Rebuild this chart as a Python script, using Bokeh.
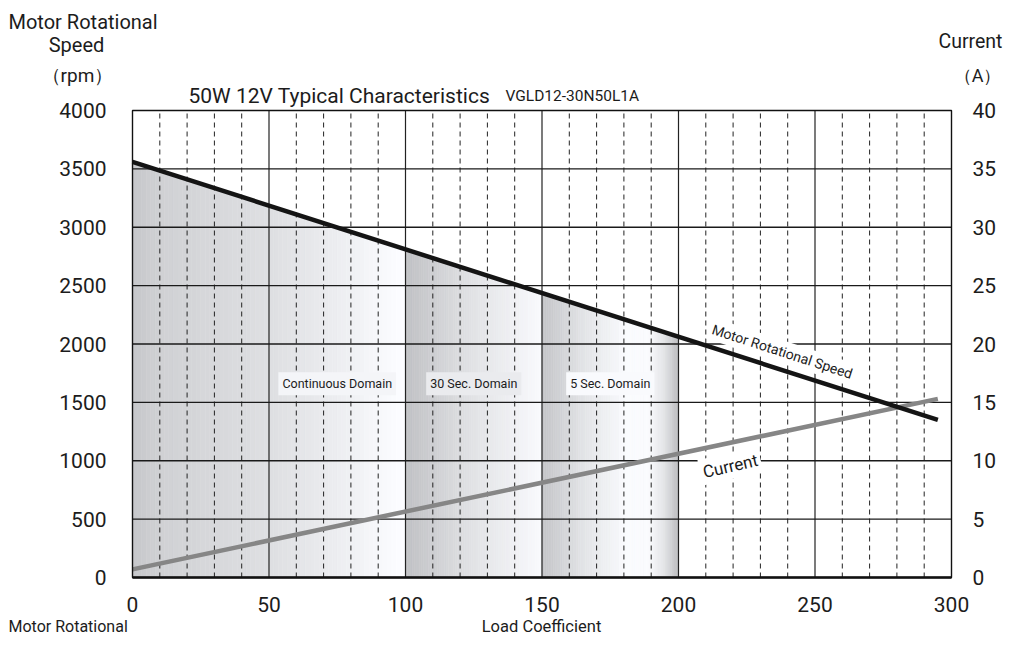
import numpy as np
from bokeh.plotting import figure
from bokeh.models import Range1d, LinearAxis, FixedTicker, Label
from bokeh.embed import file_html
from bokeh.resources import INLINE

# ---------------- data ----------------
load = [0, 295]
speed_rpm = [3560, 1350]
current_a = [0.7, 15.3]

x_ticks = [0, 50, 100, 150, 200, 250, 300]
x_minor = [10, 20, 30, 40, 60, 70, 80, 90, 110, 120, 130, 140, 160, 170, 180, 190,
           210, 220, 230, 240, 260, 270, 280, 290]
speed_ticks = [0, 500, 1000, 1500, 2000, 2500, 3000, 3500, 4000]
current_ticks = [0, 5, 10, 15, 20, 25, 30, 35, 40]

domain_names = ["Continuous Domain", "30 Sec. Domain", "5 Sec. Domain"]
domain_start = [0, 100, 150]
domain_end = [100, 150, 200]
domain_label_x = [75, 125, 175]
domain_label_y = [1660, 1660, 1660]

title_main = "50W 12V Typical Characteristics"
title_model = "VGLD12-30N50L1A"
x_title = "Load Coefficient"
left_header = ["Motor Rotational", "Speed", "（rpm）"]
right_header = ["Current", "（A）"]
speed_name = "Motor Rotational Speed"
current_name = "Current"
speed_name_pos = (238, 1935)
current_name_pos = (219, 955)

# ---------------- style / layout ----------------
FONT = "Roboto"
TXT = "#1c1c1c"
W, H = 1005, 637
PX_L, PX_R, PX_T, PX_B = 132, 951, 110, 577      # plot box on the canvas (pixels)
X0, X1 = x_ticks[0], x_ticks[-1]
Y0, Y1 = speed_ticks[0], speed_ticks[-1]
C0, C1 = current_ticks[0], current_ticks[-1]
sx = (PX_R - PX_L) / (X1 - X0)
sy = (PX_B - PX_T) / (Y1 - Y0)
x_lo, x_hi = X0 - PX_L / sx, X1 + (W - PX_R) / sx
y_lo, y_hi = Y0 - (H - PX_B) / sy, Y1 + PX_T / sy
cf = (C1 - C0) / (Y1 - Y0)


def cx2d(px):
    return X0 + (px - PX_L) / sx


def cy2d(py):
    return Y0 + (PX_B - py) / sy


grad_stops = [
    [(0.0, 198), (0.1, 208), (0.5, 222), (0.75, 236), (0.95, 250), (1.0, 252)],
    [(0.0, 192), (0.5, 226), (1.0, 249)],
    [(0.0, 196), (0.3, 226), (0.62, 250), (0.78, 250), (0.9, 226), (1.0, 188)],
]


def gray(g):
    g = int(round(g))
    return "#%02x%02x%02x" % (g, min(g + 1, 255), min(g + 4, 255))


p = figure(width=W, height=H, output_backend="svg", toolbar_location=None,
           x_range=Range1d(x_lo, x_hi), y_range=Range1d(y_lo, y_hi),
           min_border=0)
p.extra_y_ranges = {"cur": Range1d(C0 + (y_lo - Y0) * cf, C0 + (y_hi - Y0) * cf)}
p.outline_line_color = None
p.background_fill_color = "white"
p.border_fill_color = "white"
p.xgrid.visible = False
p.ygrid.visible = False

# ---- shaded operating domains (under the speed curve) ----
xs, ys, cols = [], [], []
n = 60
for s, e, stops in zip(domain_start, domain_end, grad_stops):
    edges = np.linspace(s, e, n + 1)
    fr = [a for a, _ in stops]
    gv = [b for _, b in stops]
    for a, b in zip(edges[:-1], edges[1:]):
        mid = ((a + b) / 2 - s) / (e - s)
        c = gray(np.interp(mid, fr, gv))
        ta, tb = np.interp([a, b], load, speed_rpm)
        xs.append([a, b, b, a])
        ys.append([Y0, Y0, tb, ta])
        cols.append(c)
p.patches(xs, ys, fill_color=cols, line_color=cols, line_width=0.6)

# ---- grid lines ----
p.segment(x0=x_minor, y0=[Y0] * len(x_minor), x1=x_minor, y1=[Y1] * len(x_minor),
          line_color="#222222", line_width=1, line_dash="5 4")
xmaj = [t for t in x_ticks if X0 < t < X1]
p.segment(x0=xmaj, y0=[Y0] * len(xmaj), x1=xmaj, y1=[Y1] * len(xmaj),
          line_color="#222222", line_width=1.2)
ymaj = [t for t in speed_ticks if Y0 < t < Y1]
p.segment(x0=[X0] * len(ymaj), y0=ymaj, x1=[X1] * len(ymaj), y1=ymaj,
          line_color="#1a1a1a", line_width=1.3)

# ---- curves ----
p.line(load, current_a, y_range_name="cur", line_color="#868686", line_width=4.5)
p.line(load, speed_rpm, line_color="#141414", line_width=4.5)

# ---- plot box ----
p.quad(left=[X0], right=[X1], bottom=[Y0], top=[Y1], fill_color=None,
       line_color="#111111", line_width=1.4)

# ---- axes (fixed at the plot box edges) ----
for ax in [p.xaxis[0], p.yaxis[0]]:
    ax.major_tick_line_color = None
    ax.minor_tick_line_color = None
    ax.major_label_text_font = FONT
    ax.major_label_text_font_size = "21px"
    ax.major_label_text_color = TXT

p.xaxis.ticker = FixedTicker(ticks=x_ticks)
p.xaxis.fixed_location = Y0
p.xaxis.bounds = (X0, X1)
p.xaxis.axis_line_color = "#111111"
p.xaxis.axis_line_width = 2.4
p.xaxis.major_label_standoff = 13

p.yaxis.ticker = FixedTicker(ticks=speed_ticks)
p.yaxis.fixed_location = X0
p.yaxis.axis_line_color = None
p.yaxis.major_label_standoff = 20

rax = LinearAxis(y_range_name="cur", ticker=FixedTicker(ticks=current_ticks),
                 fixed_location=X1)
rax.axis_line_color = None
rax.major_tick_line_color = None
rax.minor_tick_line_color = None
rax.major_label_text_font = FONT
rax.major_label_text_font_size = "21px"
rax.major_label_text_color = TXT
rax.major_label_standoff = 15
p.add_layout(rax, "right")

# ---- domain labels ----
for name, lx, ly, s, e, stops in zip(domain_names, domain_label_x, domain_label_y,
                                     domain_start, domain_end, grad_stops):
    fr = [a for a, _ in stops]
    gv = [b for _, b in stops]
    bg = gray(min(np.interp((lx - s) / (e - s), fr, gv) + 8, 252))
    p.add_layout(Label(x=lx, y=ly, text=name, text_font=FONT, text_font_size="12.5px",
                       text_color=TXT, text_align="center", text_baseline="middle",
                       background_fill_color=bg, padding=4))

# ---- curve names ----
p.add_layout(Label(x=speed_name_pos[0], y=speed_name_pos[1], text=speed_name,
                   angle=-18, angle_units="deg", text_font=FONT, text_font_size="14px",
                   text_color=TXT, text_align="center", text_baseline="middle",
                   background_fill_color="white", padding=3))
p.add_layout(Label(x=current_name_pos[0], y=current_name_pos[1], text=current_name,
                   angle=13, angle_units="deg", text_font=FONT, text_font_size="17px",
                   text_color=TXT, text_align="center", text_baseline="middle",
                   background_fill_color="white", padding=3))


# ---- header texts, positioned in canvas pixels ----
def slabel(text, px, py, size, align="center", baseline="middle"):
    p.add_layout(Label(x=cx2d(px), y=cy2d(py), text=text, text_font=FONT,
                       text_font_size=size, text_color=TXT,
                       text_align=align, text_baseline=baseline))


slabel(left_header[0], 8, 21, "20px", align="left")
slabel(left_header[1], 76, 44, "20px")
slabel(left_header[2], 77, 75, "19px")
slabel(right_header[0], 970, 41, "19.5px")
slabel(right_header[1], 977, 75, "18px")
slabel(title_main, 188, 95, "21px", align="left", baseline="alphabetic")
slabel(title_model, 505, 95, "15.5px", align="left", baseline="alphabetic")
slabel(x_title, 541, 626, "16.5px")
slabel(left_header[0], 8, 635, "16px", align="left", baseline="bottom")

open("out.html", "w").write(file_html(p, INLINE))
